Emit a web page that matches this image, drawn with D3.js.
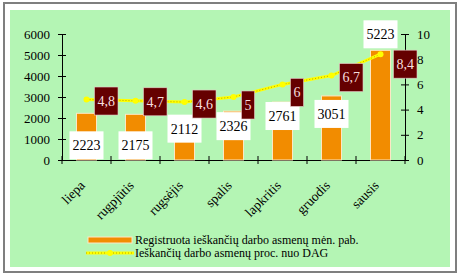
<!DOCTYPE html>
<html>
<head>
<meta charset="utf-8">
<script src="https://cdn.jsdelivr.net/npm/d3@7"></script>
<style>
  body { margin: 0; background: #ffffff; }
  svg text { font-family: "Liberation Serif", "Times New Roman", "DejaVu Serif", serif !important; }
</style>
</head>
<body>
<div id="main"></div>
<script>
var months = ['liepa', 'rugpjūtis', 'rugsėjis', 'spalis', 'lapkritis', 'gruodis', 'sausis'];
var registered = [2223, 2175, 2112, 2326, 2761, 3051, 5223];
var percent = [4.8, 4.7, 4.6, 5, 6, 6.7, 8.4];
var leftTicks = [0, 1000, 2000, 3000, 4000, 5000, 6000];
var rightTicks = [0, 2, 4, 6, 8, 10];
var legendNames = ['Registruota ieškančių darbo asmenų mėn. pab.', 'Ieškančių darbo asmenų proc. nuo DAG'];

// manual label nudges, like the original sheet
var barLabelDy = [32, 31, 13, 15, 14, 18, -16];
var lineLabelDx = [8, 8, 8, 8, 8, 8, 13];
var lineLabelDy = [1.5, 1, 2, 8, 8, 2, 10];

var width = 460, height = 276;
var orange = '#f28c00';
var serif = '"Liberation Serif", "Times New Roman", serif';

var svg = d3.select('#main').append('svg').attr('width', width).attr('height', height)
  .attr('font-family', serif);

// frame
svg.append('rect').attr('x', 4).attr('y', 3).attr('width', 452).attr('height', 269)
  .attr('fill', '#ffffff').attr('stroke', '#7f7f7f').attr('stroke-width', 2);
svg.append('rect').attr('x', 10).attr('y', 10).attr('width', 440).attr('height', 257)
  .attr('fill', '#b4f5b4');

var x = d3.scaleBand().domain(months).range([62, 405]).padding(0);
var yLeft = d3.scaleLinear().domain([0, 6000]).range([160, 34]);
var yRight = d3.scaleLinear().domain([0, 10]).range([160, 34]);

function cx(d) { return x(d) + x.bandwidth() / 2; }

// axes
var leftAxis = svg.append('g').attr('transform', 'translate(62,0)')
  .call(d3.axisLeft(yLeft).tickValues(leftTicks).tickFormat(d3.format('d'))
    .tickSizeInner(4).tickSizeOuter(0).tickPadding(8));
var rightAxis = svg.append('g').attr('transform', 'translate(405,0)')
  .call(d3.axisRight(yRight).tickValues(rightTicks).tickFormat(d3.format('d'))
    .tickSizeInner(4).tickSizeOuter(0).tickPadding(8));
var xAxis = svg.append('g').attr('transform', 'translate(0,160)')
  .call(d3.axisBottom(x).tickValues([]).tickSizeOuter(0));

[leftAxis, rightAxis, xAxis].forEach(function (g) {
  g.attr('font-family', serif).attr('font-size', 13);
  g.select('.domain').attr('stroke', '#000');
  g.selectAll('.tick line').attr('stroke', '#000');
  g.selectAll('.tick text').attr('fill', '#000');
});
// cross ticks
leftAxis.selectAll('.tick line').attr('x1', 4);
rightAxis.selectAll('.tick line').attr('x1', -4);

var xTicks = x.domain().map(function (d) { return x(d); }).concat([405]);
svg.append('g').selectAll('line')
  .data(xTicks)
  .enter()
  .append('line')
  .attr('x1', function (d) { return d; })
  .attr('x2', function (d) { return d; })
  .attr('y1', 156)
  .attr('y2', 164)
  .attr('stroke', '#000');

// x labels
svg.append('g').selectAll('text')
  .data(months)
  .enter()
  .append('text')
  .attr('transform', function (d) { return 'translate(' + (cx(d) - 4) + ',183) rotate(-45)'; })
  .attr('text-anchor', 'end')
  .attr('dy', '0.35em')
  .attr('font-size', 13.5)
  .text(function (d) { return d; });

// bars
svg.append('g').selectAll('rect')
  .data(registered)
  .enter()
  .append('rect')
  .attr('x', function (d, i) { return cx(months[i]) - 10; })
  .attr('y', function (d) { return yLeft(d); })
  .attr('width', 20)
  .attr('height', function (d) { return 160 - yLeft(d); })
  .attr('fill', orange)
  .attr('stroke', '#fde7c4')
  .attr('stroke-width', 1);

// bar value labels
var bl = svg.append('g').selectAll('g')
  .data(registered)
  .enter()
  .append('g')
  .attr('transform', function (d, i) {
    return 'translate(' + cx(months[i]) + ',' + (yLeft(d) + barLabelDy[i]) + ')';
  });
bl.append('rect').attr('x', -17).attr('y', -14).attr('width', 34).attr('height', 28).attr('fill', '#ffffff');
bl.append('text').attr('text-anchor', 'middle').attr('dy', '0.35em')
  .attr('font-size', 14).attr('fill', '#000')
  .text(function (d) { return d; });

// line
var line = d3.line()
  .x(function (d, i) { return cx(months[i]); })
  .y(function (d) { return yRight(d); });
svg.append('path').datum(percent).attr('d', line)
  .attr('fill', 'none').attr('stroke', '#ffff00').attr('stroke-width', 3);
svg.append('path').datum(percent).attr('d', line)
  .attr('fill', 'none').attr('stroke', '#b8a800').attr('stroke-width', 1).attr('stroke-dasharray', '1,2');
svg.append('g').selectAll('circle')
  .data(percent)
  .enter()
  .append('circle')
  .attr('cx', function (d, i) { return cx(months[i]); })
  .attr('cy', function (d) { return yRight(d); })
  .attr('r', 3)
  .attr('fill', '#ffff00');

// line value labels
var ll = svg.append('g').selectAll('g')
  .data(percent)
  .enter()
  .append('g')
  .attr('transform', function (d, i) {
    return 'translate(' + (cx(months[i]) + lineLabelDx[i]) + ',' + (yRight(d) + lineLabelDy[i]) + ')';
  });
var llRect = ll.append('rect').attr('y', -14).attr('height', 28)
  .attr('fill', '#650000').attr('stroke', '#e8c8c8').attr('stroke-width', 0.6);
var llText = ll.append('text').attr('dy', '0.35em')
  .attr('font-size', 14).attr('fill', '#f6dede')
  .text(function (d) { return String(d).replace('.', ','); });
llText.each(function (d, i) {
  var w = this.getComputedTextLength();
  d3.select(this).attr('x', 3);
  d3.select(llRect.nodes()[i]).attr('width', w + 6);
});

// legend
svg.append('rect').attr('x', 88).attr('y', 237).attr('width', 44).attr('height', 6)
  .attr('fill', orange).attr('stroke', '#fde7c4');
svg.append('line').attr('x1', 86).attr('x2', 134).attr('y1', 253).attr('y2', 253)
  .attr('stroke', '#ffff00').attr('stroke-width', 3);
svg.append('line').attr('x1', 86).attr('x2', 134).attr('y1', 253).attr('y2', 253)
  .attr('stroke', '#b8a800').attr('stroke-dasharray', '1,2');
svg.append('circle').attr('cx', 110).attr('cy', 253).attr('r', 3).attr('fill', '#ffff00');
svg.append('g').selectAll('text')
  .data(legendNames)
  .enter()
  .append('text')
  .attr('x', 135)
  .attr('y', function (d, i) { return 239.5 + i * 13.5; })
  .attr('dy', '0.35em')
  .attr('font-size', 12)
  .text(function (d) { return d; });
</script>
</body>
</html>
